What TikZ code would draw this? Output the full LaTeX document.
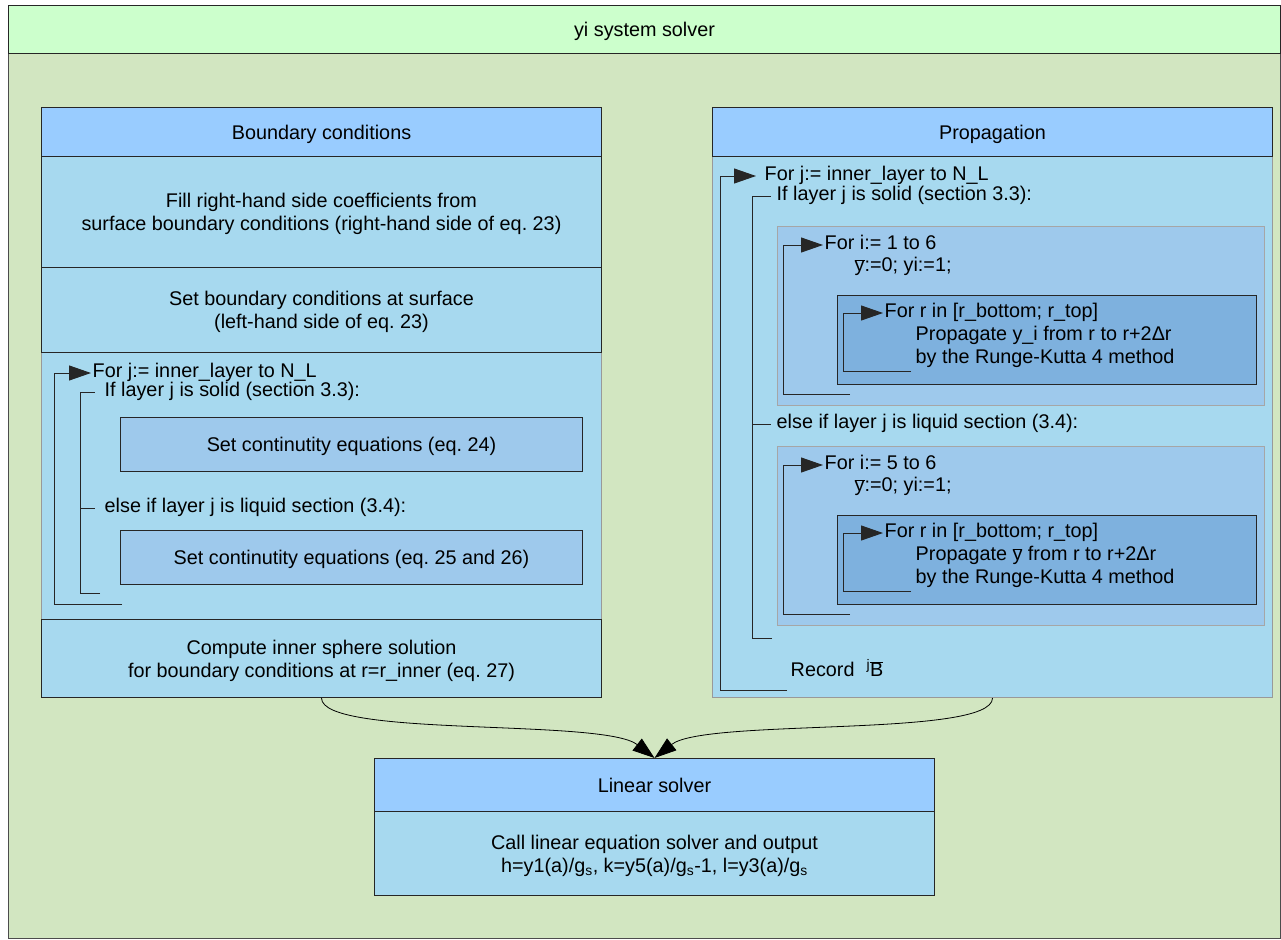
\documentclass[tikz,border=0pt]{standalone}
\usepackage{fontspec}
\setmainfont{Liberation Sans}
\usetikzlibrary{arrows.meta}

\definecolor{titlegreen}{HTML}{CCFFCC}
\definecolor{panelgreen}{HTML}{D2E6C1}
\definecolor{headblue}{HTML}{99CCFF}
\definecolor{bodyblue}{HTML}{A7D9EF}
\definecolor{innerblue}{HTML}{9EC9EC}
\definecolor{deepblue}{HTML}{7EB1DE}

\tikzset{
  box/.style={draw=black!85, line width=1pt, inner sep=0pt, anchor=north west, align=center, text depth=0pt},
  hdr/.style={box, fill=headblue, minimum height=49pt},
  txt/.style={inner sep=1.5pt, anchor=west, text height=1.2em, text depth=0.22em},
  loopline/.style={draw=black!85, line width=1pt},
  looparrow/.style={loopline, -{Triangle[length=22pt,width=15pt]}},
  flow/.style={draw=black, line width=0.8pt, -{Triangle[length=22pt,width=15pt]}},
}

\begin{document}
\begin{tikzpicture}[x=1pt, y=-1pt, font=\fontsize{19.8}{23}\selectfont]
        \useasboundingbox (0,0) rectangle (1281,939);
        % Outer frame
        \node[box, fill=panelgreen, draw=black!70, minimum width=1272pt, minimum height=885pt] (panel) at (8,53) {};
        \node[box, fill=titlegreen, minimum width=1272pt, minimum height=48pt] (title) at (8,5) {yi system solver};
        %
        % Boundary conditions column
        \node[box, fill=bodyblue, draw=black!40, minimum width=560pt, minimum height=541pt] (bcbody) at (41,156) {};
        \node[hdr, minimum width=560pt] (bchead) at (41,107) {Boundary conditions};
        \node[box, fill=bodyblue, minimum width=560pt, minimum height=111pt] (fillrhs) at (41,156) {Fill right-hand side coefficients from\\surface boundary conditions (right-hand side of eq.\ 23)};
        \node[box, fill=bodyblue, minimum width=560pt, minimum height=85pt] (setbc) at (41,267) {Set boundary conditions at surface\\(left-hand side of eq.\ 23)};
        \node[box, fill=bodyblue, minimum width=560pt, minimum height=78pt] (inner) at (41,619) {Compute inner sphere solution\\for boundary conditions at r=r\_inner (eq.\ 27)};
        \node[box, fill=innerblue, minimum width=462pt, minimum height=54pt] (cont1) at (120,417) {Set continutity equations (eq.\ 24)};
        \node[box, fill=innerblue, minimum width=462pt, minimum height=54pt] (cont2) at (120,530) {Set continutity equations (eq.\ 25 and 26)};
        % loop over layers
        \node[txt] (forjL) at (91,373) {For j:= inner\_layer to N\_L};
        \node[txt] (ifL) at (103,392) {If layer j is solid (section 3.3):};
        \node[txt] (elseL) at (103,508) {else if layer j is liquid section (3.4):};
        \draw[looparrow] (122,604) -- (54,604) |- (forjL.west);
        \draw[loopline, shorten >=8pt] (100,593) -- (80,593) |- (ifL.west);
        \draw[loopline, shorten >=8pt] (80,508) -- (elseL.west);
        %
        % Propagation column
        \node[box, fill=bodyblue, draw=black!40, minimum width=560pt, minimum height=541pt] (propbody) at (712,156) {};
        \node[hdr, minimum width=560pt] (prophead) at (712,107) {Propagation};
        \node[txt] (forjR) at (763,176) {For j:= inner\_layer to N\_L};
        \node[txt] (ifR) at (775,196) {If layer j is solid (section 3.3):};
        \node[txt] (elseR) at (775,424) {else if layer j is liquid section (3.4):};
        \node[txt] (record) at (789,672) {Record\hspace{12pt}\textsuperscript{j}$\overline{\mbox{B}}$};
        \draw[looparrow, shorten >=7pt] (787,690) -- (720,690) |- (forjR.west);
        \draw[loopline, shorten >=4pt] (772,638) -- (752,638) |- (ifR.west);
        \draw[loopline, shorten >=4pt] (752,424) -- (elseR.west);
        % solid and liquid blocks
        \foreach \k/\yb/\range/\what in {1/226/{1 to 6}/{y\_i}, 2/446/{5 to 6}/{$\overline{\mbox{y}}$}}{
            \node[box, fill=innerblue, draw=black!35, minimum width=487pt, minimum height=179pt] (iloop\k) at (777,\yb) {};
            \node[box, fill=deepblue, minimum width=419pt, minimum height=89pt] (rloop\k) at (837,\yb+69) {};
            \node[txt] (fori\k) at (823,\yb+19) {For i:= \range};
            \node[txt] (yinit\k) at (853,\yb+41) {$\overline{\mbox{y}}$:=0; yi:=1;};
            \node[txt] (forr\k) at (883,\yb+87) {For r in [r\_bottom; r\_top]};
            \node[txt] (prop\k) at (914,\yb+110) {Propagate \what{} from r to r+2Δr};
            \node[txt] (rk\k) at (914,\yb+133) {by the Runge-Kutta 4 method};
            \draw[looparrow] (850,\yb+168) -- (783,\yb+168) |- (fori\k.west);
            \draw[looparrow] (911,\yb+145) -- (843,\yb+145) |- (forr\k.west);
        }
        %
        % Linear solver
        \node[hdr, minimum width=560pt, minimum height=53pt] (linhead) at (374,758) {Linear solver};
        \node[box, fill=bodyblue, minimum width=560pt, minimum height=84pt] (linbody) at (374,811) {Call linear equation solver and output\\h=y1(a)/g\textsubscript{s}, k=y5(a)/g\textsubscript{s}-1, l=y3(a)/g\textsubscript{s}};
        \draw[flow] (inner.south) .. controls +(0,40) and (603,718) .. (linhead.north);
        \draw[flow] (propbody.south) .. controls +(0,40) and (705,718) .. (linhead.north);
\end{tikzpicture}
\end{document}
